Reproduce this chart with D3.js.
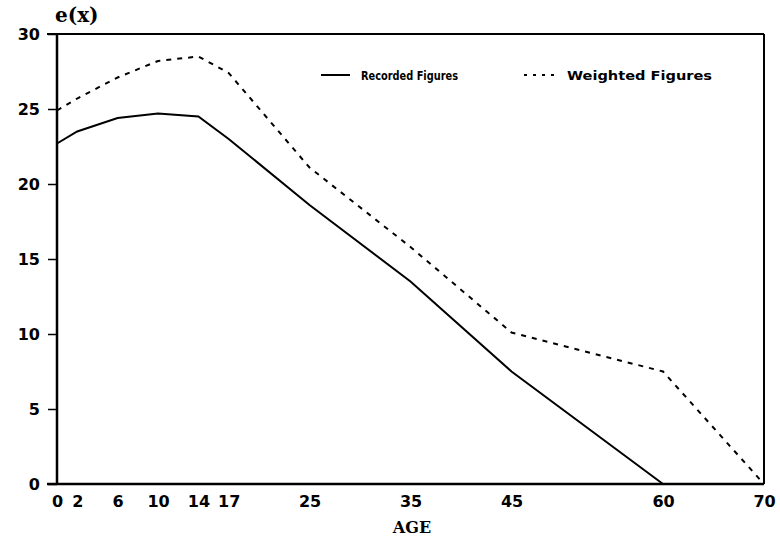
<!DOCTYPE html>
<html><head><meta charset="utf-8">
<script src="https://cdn.jsdelivr.net/npm/d3@7"></script>
<style>body{margin:0;background:#fff}</style>
</head><body>
<svg id="c" width="780" height="539"></svg>
<script>
const ages = [0, 2, 6, 10, 14, 17, 25, 35, 45, 60, 70];
const recorded = [22.7, 23.5, 24.4, 24.7, 24.5, 23.0, 18.6, 13.5, 7.5, 0];
const weighted = [24.9, 25.7, 27.1, 28.2, 28.5, 27.4, 21.1, 15.8, 10.1, 7.5, 0];
const yTicks = [0, 5, 10, 15, 20, 25, 30];
const seriesNames = ["Recorded Figures", "Weighted Figures"];

const svg = d3.select("#c");
const x = d3.scaleLinear().domain([0, 70]).range([57, 764]);
const y = d3.scaleLinear().domain([0, 30]).range([484, 34]);
const labelFont = "DejaVu Sans, sans-serif";

// frame top and right
svg.append("line").attr("x1", 47).attr("x2", x(70)).attr("y1", y(30)).attr("y2", y(30))
  .attr("stroke", "#000").attr("stroke-width", 2);
svg.append("line").attr("x1", x(70)).attr("x2", x(70)).attr("y1", y(30)).attr("y2", y(0))
  .attr("stroke", "#000").attr("stroke-width", 2);

// y axis
const yAxis = svg.append("g").attr("transform", `translate(${x(0)},0)`)
  .call(d3.axisLeft(y).tickValues(yTicks).tickSize(9).tickPadding(8).tickFormat(d3.format("d")));
yAxis.select(".domain").attr("stroke-width", 2.5).attr("d", `M0,${y(30)}V${y(0)}`);
yAxis.selectAll(".tick line").attr("stroke-width", 1.5);
yAxis.selectAll("text").attr("font-family", labelFont).attr("font-weight", "bold")
  .attr("font-size", 16).attr("fill", "#000");

// x axis
const xAxis = svg.append("g").attr("transform", `translate(0,${y(0)})`)
  .call(d3.axisBottom(x).tickValues(ages).tickSize(0).tickPadding(12).tickFormat(d3.format("d")));
xAxis.select(".domain").attr("stroke-width", 2.5).attr("d", `M47,0H${x(70)}`);
xAxis.selectAll("text").attr("font-family", labelFont).attr("font-weight", "bold")
  .attr("font-size", 16).attr("fill", "#000");

// axis titles
svg.append("text").attr("x", 55).attr("y", 22).text("e(x)")
  .attr("font-family", "DejaVu Serif, serif").attr("font-weight", "bold").attr("font-size", 20);
svg.append("text").attr("x", 412).attr("y", 533).attr("text-anchor", "middle").text("AGE")
  .attr("font-family", "DejaVu Serif, serif").attr("font-weight", "bold").attr("font-size", 16);

const line = d3.line().x((d, i) => x(ages[i])).y(d => y(d));
svg.append("path").datum(recorded).attr("d", line).attr("fill", "none")
  .attr("stroke", "#000").attr("stroke-width", 2);
svg.append("path").datum(weighted).attr("d", line).attr("fill", "none")
  .attr("stroke", "#000").attr("stroke-width", 2).attr("stroke-dasharray", "5,6");

// legend
const ly = 75;
svg.append("line").attr("x1", 321).attr("x2", 350).attr("y1", ly).attr("y2", ly)
  .attr("stroke", "#000").attr("stroke-width", 2);
svg.append("text").attr("x", 361).attr("y", ly + 4.5).text(seriesNames[0])
  .attr("font-family", labelFont).attr("font-weight", "bold").attr("font-size", 12)
  .attr("textLength", 97).attr("lengthAdjust", "spacingAndGlyphs");
svg.append("line").attr("x1", 524).attr("x2", 556).attr("y1", ly).attr("y2", ly)
  .attr("stroke", "#000").attr("stroke-width", 2).attr("stroke-dasharray", "3,6");
svg.append("text").attr("x", 567).attr("y", ly + 4.5).text(seriesNames[1])
  .attr("font-family", labelFont).attr("font-weight", "bold").attr("font-size", 12)
  .attr("textLength", 145).attr("lengthAdjust", "spacingAndGlyphs");
</script>
</body></html>
